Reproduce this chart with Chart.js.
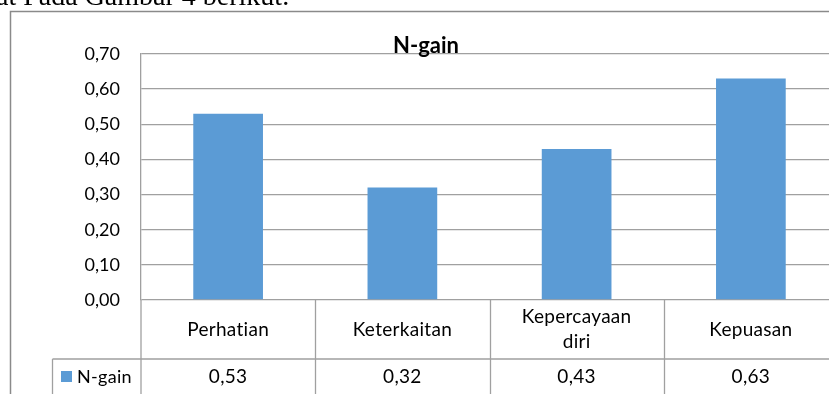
<!DOCTYPE html>
<html>
<head>
<meta charset="utf-8">
<script src="https://cdn.jsdelivr.net/npm/chart.js@4"></script>
<style>
  html, body { margin: 0; padding: 0; background: #fff; overflow: hidden; }
  #wrap { position: relative; width: 850px; height: 394px; }
</style>
</head>
<body>
<div id="wrap"><canvas id="c" width="850" height="394"></canvas></div>
<script>
// Data
const categories = [['Perhatian'], ['Keterkaitan'], ['Kepercayaan', 'diri'], ['Kepuasan']];
const seriesName = 'N-gain';
const nGain = [0.53, 0.32, 0.43, 0.63];
const yMin = 0, yMax = 0.7, yStep = 0.1;
const chartTitle = 'N-gain';
const leadText = 'at Pada Gambar 4 berikut.';

const BAR = '#5b9bd5';
const LINE = '#a0a0a0';
const FONT = 'Lato';

const fmt = v => Number(v).toFixed(2).replace('.', ',');

// Frame, title and data table under the category axis
const tablePlugin = {
  id: 'dataTable',
  beforeDraw(chart) {
    const ctx = chart.ctx;
    ctx.save();
    ctx.fillStyle = '#fff';
    ctx.fillRect(0, 0, chart.width, chart.height);
    // running text above the figure
    ctx.fillStyle = '#000';
    ctx.font = '28px "Liberation Serif"';
    ctx.textAlign = 'left';
    ctx.textBaseline = 'alphabetic';
    ctx.fillText(leadText, -4, 5);
    // chart frame
    ctx.strokeStyle = '#8a8a8a';
    ctx.lineWidth = 1.5;
    ctx.beginPath();
    ctx.moveTo(10.5, chart.height + 2);
    ctx.lineTo(10.5, 11.5);
    ctx.lineTo(chart.width + 2, 11.5);
    ctx.stroke();
    ctx.restore();
  },
  afterDraw(chart) {
    const ctx = chart.ctx;
    const area = chart.chartArea;
    const xs = chart.scales.x;
    const n = categories.length;
    const colW = (area.right - area.left) / n;
    const rowSplit = area.bottom + 59;
    const bottom = chart.height + 2;

    ctx.save();
    ctx.strokeStyle = LINE;
    ctx.lineWidth = 1.3;
    ctx.beginPath();
    ctx.moveTo(area.left, area.bottom);
    ctx.lineTo(area.left, bottom);
    for (let i = 1; i <= n; i++) {
      const x = Math.round(area.left + i * colW) + 0.5;
      ctx.moveTo(x, area.bottom);
      ctx.lineTo(x, bottom);
    }
    ctx.moveTo(52.5, rowSplit);
    ctx.lineTo(area.right, rowSplit);
    ctx.moveTo(52.5, rowSplit);
    ctx.lineTo(52.5, bottom);
    ctx.stroke();

    ctx.fillStyle = '#000';
    ctx.font = '19px ' + FONT;
    ctx.letterSpacing = '0.3px';
    ctx.textAlign = 'center';
    ctx.textBaseline = 'middle';
    const rowMid = (area.bottom + rowSplit) / 2;
    categories.forEach((lines, i) => {
      const cx = xs.getPixelForValue(i);
      const lh = 25;
      const y0 = rowMid - (lines.length - 1) * lh / 2;
      lines.forEach((t, k) => ctx.fillText(t, cx, y0 + k * lh));
      ctx.fillText(fmt(nGain[i]), cx, rowSplit + 18);
    });

    // legend key in the table
    ctx.fillStyle = BAR;
    ctx.fillRect(61, rowSplit + 12, 11, 11);
    ctx.fillStyle = '#000';
    ctx.textAlign = 'left';
    ctx.font = '18px ' + FONT;
    ctx.fillText(seriesName, 77, rowSplit + 18);

    // title
    ctx.letterSpacing = '0px';
    ctx.font = 'bold 22px ' + FONT;
    ctx.textAlign = 'center';
    ctx.textBaseline = 'alphabetic';
    ctx.fillText(chartTitle, 426, 53);
    ctx.restore();
  }
};

new Chart(document.getElementById('c'), {
  type: 'bar',
  data: {
    labels: categories,
    datasets: [{
      label: seriesName,
      data: nGain,
      backgroundColor: BAR,
      borderWidth: 0,
      categoryPercentage: 1,
      barPercentage: 0.4
    }]
  },
  options: {
    responsive: false,
    devicePixelRatio: 1,
    animation: false,
    layout: { padding: { top: 54, right: 12, bottom: 94, left: 0 } },
    plugins: {
      legend: { display: false },
      title: { display: false },
      tooltip: { enabled: false }
    },
    scales: {
      x: { display: false },
      y: {
        min: yMin,
        max: yMax,
        afterFit: s => { s.width = 141; },
        ticks: {
          stepSize: yStep,
          padding: 21,
          color: '#000',
          font: { family: FONT, size: 18 },
          callback: v => fmt(v)
        },
        grid: { color: LINE, lineWidth: 1.3, drawTicks: false },
        border: { display: true, color: LINE, width: 1.3 }
      }
    }
  },
  plugins: [tablePlugin]
});
</script>
</body>
</html>
